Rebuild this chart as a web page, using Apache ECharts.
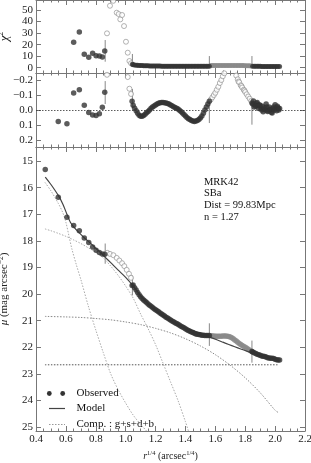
<!DOCTYPE html>
<html><head><meta charset="utf-8">
<script src="https://cdn.jsdelivr.net/npm/echarts@6/dist/echarts.min.js"></script>
<style>html,body{margin:0;padding:0;background:#fff}#c{width:311px;height:463px}</style>
</head><body><div id="c"></div>
<script>
// ---------------- data ----------------
const yTicksChi = [0, 10, 20, 30, 40, 50];
const yTicksRes = [-0.2, -0.1, 0, 0.1, 0.2];
const yTicksMu = [15, 16, 17, 18, 19, 20, 21, 22, 23, 24, 25];

// observed surface brightness (main panel)
const obsInner = [[0.462,15.32],[0.549,16.36],[0.607,17.11],[0.652,17.42],[0.69,17.62],[0.723,17.89],[0.753,18.06],[0.779,18.23],[0.802,18.35],[0.824,18.44],[0.844,18.49],[0.86,18.50]];
const obsBand = [[1.043,19.68],[1.05,19.66],[1.06,19.76],[1.07,19.85],[1.08,19.94],[1.09,20.03],[1.10,20.10],[1.11,20.17],[1.12,20.22],[1.13,20.27],[1.14,20.32],[1.15,20.375],[1.16,20.42],[1.17,20.46],[1.18,20.505],[1.19,20.55],[1.20,20.59],[1.21,20.63],[1.22,20.67],[1.23,20.71],[1.24,20.75],[1.25,20.79],[1.26,20.83],[1.27,20.87],[1.28,20.905],[1.29,20.94],[1.30,20.975],[1.31,21.01],[1.32,21.045],[1.33,21.08],[1.34,21.11],[1.35,21.14],[1.36,21.175],[1.37,21.21],[1.38,21.24],[1.39,21.27],[1.40,21.305],[1.41,21.34],[1.42,21.37],[1.43,21.40],[1.44,21.425],[1.45,21.45],[1.46,21.475],[1.47,21.50],[1.48,21.515],[1.49,21.525],[1.50,21.535],[1.51,21.545],[1.52,21.55],[1.53,21.555],[1.54,21.555],[1.55,21.555],[1.56,21.56],
 [1.845,22.16],[1.85,22.177],[1.86,22.205],[1.87,22.233],[1.88,22.26],[1.89,22.283],[1.90,22.305],[1.91,22.327],[1.92,22.335],[1.93,22.344],[1.94,22.37],[1.95,22.399],[1.96,22.405],[1.97,22.411],[1.98,22.417],[1.99,22.423],[2.00,22.45],[2.01,22.472],[2.02,22.476],[2.03,22.479]];
const obsOpen = [[0.877,18.45],[0.895,18.49],[0.918,18.54],[0.94,18.64],[0.958,18.74],[0.976,18.84],[0.991,18.95],[1.007,19.09],[1.022,19.24],[1.036,19.39]];
const obsGray = [[1.57,21.567],[1.58,21.575],[1.59,21.58],[1.60,21.584],[1.61,21.586],[1.62,21.585],[1.63,21.584],[1.64,21.583],[1.65,21.582],[1.66,21.58],[1.67,21.58],[1.68,21.585],[1.69,21.594],[1.70,21.615],[1.71,21.647],[1.72,21.685],[1.73,21.725],[1.74,21.77],[1.75,21.817],[1.76,21.86],[1.77,21.90],[1.78,21.935],[1.79,21.97],[1.80,22.005],[1.81,22.04],[1.82,22.075],[1.83,22.109],[1.84,22.145]];

// model and components (g, s, d, b)
const model = [[0.462,15.60],[0.50,15.88],[0.549,16.29],[0.58,16.62],[0.607,17.0],[0.63,17.3],[0.652,17.47],[0.69,17.7],[0.726,17.9],[0.753,18.03],[0.78,18.17],[0.80,18.28],[0.826,18.41],[0.86,18.6],[0.90,18.82],[0.95,19.1],[1.00,19.37],[1.05,19.69],[1.07,19.845],[1.09,19.99],[1.11,20.12],[1.13,20.24],[1.15,20.365],[1.17,20.47],[1.19,20.57],[1.21,20.67],[1.23,20.76],[1.25,20.84],[1.27,20.91],[1.29,20.98],[1.31,21.04],[1.33,21.095],[1.35,21.15],[1.37,21.2],[1.39,21.245],[1.41,21.29],[1.43,21.335],[1.45,21.38],[1.47,21.42],[1.49,21.46],[1.51,21.505],[1.53,21.555],[1.55,21.595],[1.57,21.635],[1.61,21.72],[1.65,21.81],[1.69,21.895],[1.73,21.98],[1.77,22.065],[1.81,22.145],[1.85,22.22],[1.89,22.295],[1.93,22.36],[1.97,22.415],[2.01,22.465],[2.03,22.49]];
const compG = [[0.46,15.80],[0.50,16.12],[0.55,16.60],[0.58,16.95],[0.60,17.30],[0.62,17.80],[0.64,18.30],[0.67,18.90],[0.70,19.45],[0.75,20.45],[0.80,21.35],[0.85,22.2],[0.90,23.0],[0.95,23.6],[1.00,24.1],[1.05,24.55],[1.10,24.9],[1.14,25.15]];
const compS = [[0.46,17.55],[0.50,17.62],[0.55,17.72],[0.60,17.83],[0.65,17.96],[0.70,18.10],[0.75,18.26],[0.80,18.43],[0.85,18.64],[0.90,18.95],[0.95,19.30],[1.00,19.70],[1.05,20.15],[1.10,20.75],[1.15,21.30],[1.20,21.90],[1.25,22.60],[1.30,23.30],[1.35,24.00],[1.40,24.80],[1.42,25.15]];
const compD = [[0.46,20.84],[0.6,20.86],[0.7,20.88],[0.8,20.92],[0.9,20.97],[1.0,21.05],[1.1,21.15],[1.2,21.29],[1.3,21.46],[1.4,21.68],[1.5,21.95],[1.6,22.28],[1.7,22.68],[1.8,23.15],[1.9,23.71],[2.0,24.37],[2.02,24.45]];
const compB = [[0.46,22.66],[2.02,22.66]];

// residuals
const resInner = [[0.549,0.076],[0.607,0.091],[0.652,-0.113],[0.69,-0.135],[0.723,-0.031],[0.753,0.016],[0.779,0.033],[0.802,0.036],[0.824,0.025],[0.844,-0.018],[0.86,-0.118]];
const resBand = [[1.043,-0.058],[1.05,-0.031],[1.06,-0.012],[1.07,0.005],[1.08,0.022],[1.09,0.035],[1.10,0.041],[1.11,0.042],[1.12,0.036],[1.13,0.028],[1.14,0.019],[1.15,0.01],[1.16,0.0],[1.17,-0.012],[1.18,-0.02],[1.19,-0.027],[1.20,-0.034],[1.21,-0.04],[1.22,-0.045],[1.23,-0.048],[1.24,-0.05],[1.25,-0.05],[1.26,-0.049],[1.27,-0.047],[1.28,-0.044],[1.29,-0.04],[1.30,-0.034],[1.31,-0.028],[1.32,-0.022],[1.33,-0.017],[1.34,-0.012],[1.35,-0.006],[1.36,0.002],[1.37,0.01],[1.38,0.02],[1.39,0.03],[1.40,0.04],[1.41,0.05],[1.42,0.058],[1.43,0.064],[1.44,0.07],[1.45,0.074],[1.46,0.076],[1.47,0.074],[1.48,0.07],[1.49,0.063],[1.50,0.053],[1.51,0.04],[1.52,0.022],[1.53,0.0],[1.54,-0.02],[1.55,-0.04],[1.56,-0.058],
 [1.845,-0.047],[1.85,-0.04],[1.855,-0.06],[1.86,-0.02],[1.865,-0.035],[1.87,-0.025],[1.875,-0.045],[1.88,-0.05],[1.885,-0.03],[1.89,-0.01],[1.895,-0.035],[1.90,-0.03],[1.905,-0.01],[1.91,0.0],[1.915,-0.025],[1.92,0.012],[1.925,-0.005],[1.93,-0.015],[1.935,0.0],[1.94,-0.04],[1.945,-0.02],[1.95,0.01],[1.955,0.005],[1.96,-0.02],[1.965,0.0],[1.97,-0.005],[1.975,0.015],[1.98,0.02],[1.985,-0.01],[1.99,-0.02],[1.995,0.0],[2.00,-0.035],[2.005,-0.01],[2.01,0.005],[2.015,-0.025],[2.02,-0.015],[2.025,0.0],[2.03,-0.01]];
const resOpen = [[0.875,-0.235],[1.014,-0.22],[1.025,-0.142],[1.036,-0.107],
 [1.57,-0.07],[1.58,-0.085],[1.59,-0.1],[1.60,-0.115],[1.61,-0.135],[1.62,-0.155],[1.63,-0.18],[1.64,-0.2],[1.65,-0.225],[1.66,-0.245],[1.74,-0.23],[1.75,-0.205],[1.755,-0.19],[1.76,-0.185],[1.77,-0.165],[1.775,-0.16],[1.78,-0.15],[1.79,-0.135],[1.795,-0.13],[1.80,-0.12],[1.81,-0.105],[1.82,-0.09],[1.83,-0.075],[1.84,-0.06]];

// reduced chi^2
const chiInner = [[0.652,22.0],[0.69,30.9],[0.723,11.6],[0.753,9.0],[0.779,12.5],[0.802,10.4],[0.824,10.1],[0.844,9.3],[0.86,14.5]];
const chiBand = [[1.045,2.9],[1.05,2.6],[1.06,2.4],[1.07,2.2],[1.08,2.1],[1.09,2.0],[1.10,1.9],[1.11,1.8],[1.12,1.75],[1.13,1.7],[1.14,1.65],[1.15,1.6],[1.16,1.55],[1.17,1.5],[1.18,1.5],[1.19,1.5],[1.20,1.45],[1.21,1.4],[1.22,1.4],[1.23,1.4],[1.24,1.35],[1.25,1.3],[1.26,1.3],[1.27,1.3],[1.28,1.3],[1.29,1.3],[1.30,1.25],[1.31,1.2],[1.32,1.2],[1.33,1.2],[1.34,1.2],[1.35,1.2],[1.36,1.2],[1.37,1.2],[1.38,1.2],[1.39,1.2],[1.40,1.2],[1.41,1.2],[1.42,1.2],[1.43,1.2],[1.44,1.2],[1.45,1.2],[1.46,1.2],[1.47,1.2],[1.48,1.2],[1.49,1.2],[1.50,1.2],[1.51,1.2],[1.52,1.2],[1.53,1.2],[1.54,1.2],[1.55,1.2],[1.56,1.2],
 [1.85,1.3],[1.86,1.25],[1.87,1.2],[1.88,1.2],[1.89,1.2],[1.90,1.15],[1.91,1.1],[1.92,1.1],[1.93,1.1],[1.94,1.1],[1.95,1.1],[1.96,1.05],[1.97,1.0],[1.98,1.0],[1.99,1.0],[2.00,1.0],[2.01,1.0],[2.02,1.0],[2.03,1.0]];
const chiOpen = [[0.875,29.8],[0.895,53.7],[0.917,58],[0.94,47.7],[0.953,46.5],[0.964,41.9],[0.976,45.7],[0.989,36.1],[1.002,22.5],[1.014,13],[1.025,5.8],[1.036,3.8]];
const chiGray = [[1.57,1.8],[1.58,1.8],[1.59,1.8],[1.60,1.85],[1.61,1.9],[1.62,1.9],[1.63,1.9],[1.64,1.95],[1.65,2.0],[1.66,2.0],[1.67,2.0],[1.68,2.0],[1.69,2.0],[1.70,2.0],[1.71,2.0],[1.72,1.95],[1.73,1.9],[1.74,1.9],[1.75,1.9],[1.76,1.85],[1.77,1.8],[1.78,1.8],[1.79,1.8],[1.80,1.75],[1.81,1.7],[1.82,1.65],[1.83,1.6],[1.84,1.5]];

// fit-region boundary markers: [x, from, to]
const markMu = [[0.863,18.1,18.86],[1.045,19.3,20.05],[1.56,21.1,21.95],[1.845,21.75,22.58]];
const markRes = [[0.863,-0.193,-0.04],[1.045,-0.14,-0.013],[1.56,-0.08,0.087],[1.845,-0.069,0.098]];
const markChi = [[0.863,24,5.2],[1.045,11.9,0.9],[1.56,10.1,0.9],[1.845,10.1,0.9]];

const infoLines = ['MRK42', 'SBa', 'Dist = 99.83Mpc', 'n = 1.27'];

// ---------------- chart ----------------
const FONT = 'Liberation Serif';
const AX = '#777';
const chart = echarts.init(document.getElementById('c'), null, {renderer: 'canvas'});

const grids = [
  {left: 36, top: 0, width: 269, height: 73},
  {left: 36, top: 73, width: 269, height: 74},
  {left: 36, top: 147, width: 269, height: 284}
].map(g => Object.assign(g, {containLabel: false, outerBoundsMode: 'none'}));

function xAx(gi, pos, labels) {
  return {
    type: 'value', gridIndex: gi, position: pos, min: 0.4, max: 2.2, interval: 0.2,
    axisLine: {show: true, onZero: false, lineStyle: {color: AX, width: 1}},
    axisTick: {show: true, inside: true, length: 5, lineStyle: {color: AX}},
    minorTick: {show: true, splitNumber: 4, length: 2.5, lineStyle: {color: AX}},
    splitLine: {show: false}, minorSplitLine: {show: false},
    axisLabel: {show: labels, margin: 3, color: '#222', fontFamily: FONT, fontSize: 11,
      formatter: v => v.toFixed(1)},
    name: labels ? '{it|r}{sup|1/4} (arcsec{sup|1/4})' : '',
    nameLocation: 'middle', nameGap: 15,
    nameTextStyle: {fontFamily: FONT, fontSize: 10, color: '#222', lineHeight: 12,
      rich: {it: {fontStyle: 'italic', fontFamily: FONT, fontSize: 10},
             sup: {fontSize: 6.5, fontFamily: FONT, verticalAlign: 'top', lineHeight: 12}}}
  };
}
function yAx(gi, pos, min, max, ticks, inverse, labels, name, gap, nfs) {
  nfs = nfs || 11;
  return {
    type: 'value', gridIndex: gi, position: pos, min: min, max: max, inverse: inverse,
    axisLine: {show: true, onZero: false, lineStyle: {color: AX, width: 1}},
    axisTick: {show: true, inside: true, length: 5, customValues: ticks, lineStyle: {color: AX}},
    splitLine: {show: false},
    axisLabel: {show: labels, customValues: ticks, margin: 3, color: '#222', fontFamily: FONT, fontSize: 11,
      formatter: v => (Math.abs(v) < 1e-9 ? (ticks[1] - ticks[0] < 1 ? '0.0' : '0') : (ticks[1] - ticks[0] < 1 ? v.toFixed(1).replace('-', '\u2212') : String(v)))},
    name: labels ? name : '', nameLocation: 'middle', nameRotate: 90, nameGap: gap,
    nameTextStyle: {fontFamily: FONT, fontSize: nfs, color: '#222', lineHeight: 14,
      rich: {it: {fontStyle: 'italic', fontFamily: FONT, fontSize: nfs},
             sup: {fontSize: 7.5, fontFamily: FONT, verticalAlign: 'top', lineHeight: 14}}}
  };
}

const xAxes = [xAx(0,'bottom',false), xAx(0,'top',false), xAx(1,'bottom',false), xAx(1,'top',false), xAx(2,'bottom',true), xAx(2,'top',false)];
const yAxes = [
  yAx(0,'left',-4.6,58.7,yTicksChi,false,true,'{it|χ}{sup|2}',13,13),
  yAx(0,'right',-4.6,58.7,yTicksChi,false,false,'',0),
  yAx(1,'left',-0.247,0.247,yTicksRes,true,true,'Residual',22),
  yAx(1,'right',-0.247,0.247,yTicksRes,true,false,'',0),
  yAx(2,'left',14.47,25.15,yTicksMu,true,true,'{it|μ} (mag arcsec{sup|−2})',8),
  yAx(2,'right',14.47,25.15,yTicksMu,true,false,'',0)
];

function marks(data, xi, yi, z) {
  return {type: 'custom', xAxisIndex: xi, yAxisIndex: yi, data: data, z: z || 2, silent: true,
    renderItem: (params, api) => {
      const a = api.coord([api.value(0), api.value(1)]);
      const b = api.coord([api.value(0), api.value(2)]);
      return {type: 'line', shape: {x1: a[0], y1: a[1], x2: b[0], y2: b[1]}, style: {stroke: '#888', lineWidth: 1}};
    }};
}
function dots(data, xi, yi, color, size, hollow, z) {
  return {type: 'scatter', xAxisIndex: xi, yAxisIndex: yi, data: data, clip: true, symbol: 'circle', symbolSize: size,
    itemStyle: hollow ? {color: '#fff', borderColor: color, borderWidth: 0.8} : {color: color, borderWidth: 0},
    z: z || 3, silent: true, animation: false, large: false};
}
function curve(data, color, width, type, z) {
  return {type: 'line', xAxisIndex: 4, yAxisIndex: 4, data: data, showSymbol: false, smooth: 0.3, clip: true,
    lineStyle: {color: color, width: width, type: type}, z: z || 2, silent: true, animation: false};
}

const series = [
  curve(compG, '#aaa', 1, [1.5, 1.5]),
  curve(compS, '#aaa', 1, [1.5, 1.5]),
  curve(compD, '#888', 1, [1.5, 1.5]),
  curve(compB, '#555', 1, [1.5, 1.5]),
  marks(markMu, 4, 4),
  curve(model, '#444', 1.2, 'solid', 4),
  dots(obsOpen, 4, 4, '#888', 5, true),
  dots(obsGray, 4, 4, '#8a8a8a', 5.5, false),
  dots(obsInner, 4, 4, '#333', 5.5, false, 5),
  dots(obsBand, 4, 4, '#333', 5.5, false, 5),
  // residual panel
  {type: 'line', xAxisIndex: 2, yAxisIndex: 2, data: [], markLine: {silent: true, symbol: 'none', label: {show: false},
    lineStyle: {color: '#333', type: [1.5, 1.5], width: 0.8}, data: [{yAxis: 0}]}},
  marks(markRes, 2, 2),
  dots(resOpen, 2, 2, '#888', 5, true),
  dots(resInner, 2, 2, '#333', 5.5, false),
  dots(resBand, 2, 2, '#333', 5.5, false),
  // chi panel
  marks(markChi, 0, 0),
  dots(chiOpen, 0, 0, '#888', 5, true),
  dots(chiGray, 0, 0, '#8a8a8a', 5, false),
  dots(chiInner, 0, 0, '#333', 5.5, false),
  dots(chiBand, 0, 0, '#333', 5, false)
];

const graphic = [
  {type: 'text', left: 204, top: 176, style: {text: infoLines.join('\n'), font: '10.5px "Liberation Serif"', fill: '#111', lineHeight: 11.7}},
  {type: 'circle', shape: {cx: 49.3, cy: 393.5, r: 2.4}, style: {fill: '#333'}},
  {type: 'circle', shape: {cx: 62.7, cy: 393.5, r: 2.4}, style: {fill: '#333'}},
  {type: 'text', x: 76.5, y: 393.5, style: {text: 'Observed', font: '11px "Liberation Serif"', fill: '#111', textVerticalAlign: 'middle'}},
  {type: 'line', shape: {x1: 49, y1: 408.5, x2: 65, y2: 408.5}, style: {stroke: '#444', lineWidth: 1.2}},
  {type: 'text', x: 76.5, y: 408.5, style: {text: 'Model', font: '11px "Liberation Serif"', fill: '#111', textVerticalAlign: 'middle'}},
  {type: 'line', shape: {x1: 49, y1: 424.5, x2: 65, y2: 424.5}, style: {stroke: '#999', lineWidth: 1, lineDash: [1.5, 1.5]}},
  {type: 'text', x: 76.5, y: 424.5, style: {text: 'Comp. : g+s+d+b', font: '11px "Liberation Serif"', fill: '#111', textVerticalAlign: 'middle'}}
];

chart.setOption({animation: false, grid: grids, xAxis: xAxes, yAxis: yAxes, series: series, graphic: graphic});
</script></body></html>
